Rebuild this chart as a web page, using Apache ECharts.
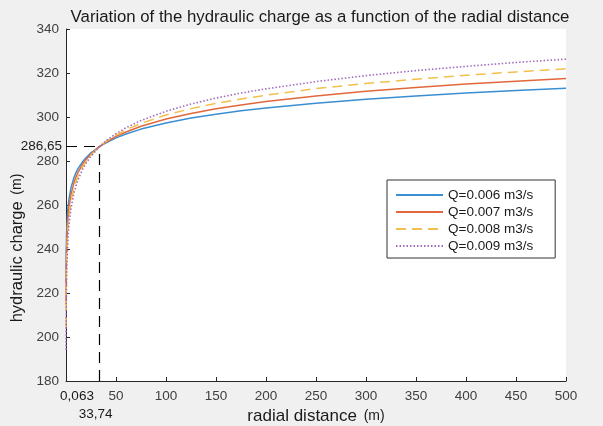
<!DOCTYPE html>
<html>
<head>
<meta charset="utf-8">
<script src="https://cdn.jsdelivr.net/npm/echarts@6/dist/echarts.min.js"></script>
<style>
html,body{margin:0;padding:0;background:#f0f0f0;}
#chart{width:603px;height:426px;}
</style>
</head>
<body>
<div id="chart"></div>
<script>
// radial distance (m)
const radius = [0.063, 0.2, 0.5, 1, 2, 3, 5, 8, 10, 12, 17, 20, 25, 33.74, 40, 50, 60, 75, 100, 125, 150, 175, 200, 250, 300, 350, 400, 450, 500];
// hydraulic charge (m) for each pumping rate
const hQ006 = [225.0, 236.3, 245.3, 252.1, 258.9, 262.9, 267.9, 272.5, 274.7, 276.5, 279.9, 281.5, 283.7, 286.65, 288.3, 290.5, 292.3, 294.5, 297.3, 299.5, 301.3, 302.8, 304.1, 306.3, 308.1, 309.6, 310.9, 312.1, 313.1];
const hQ007 = [214.7, 228.0, 238.4, 246.4, 254.3, 259.0, 264.8, 270.2, 272.7, 274.8, 278.8, 280.7, 283.2, 286.65, 288.6, 291.2, 293.2, 295.8, 299.1, 301.6, 303.7, 305.5, 307.0, 309.6, 311.7, 313.4, 315.0, 316.3, 317.5];
const hQ008 = [204.5, 219.6, 231.6, 240.6, 249.7, 255.0, 261.7, 267.8, 270.7, 273.1, 277.7, 279.8, 282.7, 286.65, 288.9, 291.8, 294.2, 297.1, 300.9, 303.8, 306.2, 308.2, 309.9, 312.9, 315.2, 317.2, 319.0, 320.5, 321.9];
const hQ009 = [194.2, 211.2, 224.7, 234.9, 245.1, 251.0, 258.6, 265.5, 268.8, 271.4, 276.6, 279.0, 282.2, 286.65, 289.2, 292.4, 295.1, 298.4, 302.6, 305.9, 308.6, 310.9, 312.8, 316.1, 318.8, 321.1, 323.0, 324.8, 326.3];
const seriesNames = ['Q=0.006 m3/s', 'Q=0.007 m3/s', 'Q=0.008 m3/s', 'Q=0.009 m3/s'];
// reference point
const refX = 33.74, refY = 286.65;
const refXLabel = '33,74', refYLabel = '286,65', firstXLabel = '0,063';
const xMin = 0, xMax = 500, xStep = 50;
const yMin = 180, yMax = 340, yStep = 20;

const FONT = 'Arial, "Liberation Sans", sans-serif';
const colors = ['#3a8fd2', '#e2683c', '#f1c04c', '#a06cbc'];
const styles = [
  {type: 'solid', width: 1.5},
  {type: 'solid', width: 1.5},
  {type: [10, 6], width: 1.5},
  {type: [1.5, 2], width: 1.6}
];
const allH = [hQ006, hQ007, hQ008, hQ009];

const chart = echarts.init(document.getElementById('chart'), null, {renderer: 'canvas'});
const series = allH.map((h, k) => ({
  name: seriesNames[k],
  type: 'line',
  data: radius.map((r, i) => [r, h[i]]),
  symbol: 'none',
  showSymbol: false,
  z: 3 + k,
  lineStyle: Object.assign({color: colors[k]}, styles[k]),
  itemStyle: {color: colors[k]},
  emphasis: {disabled: true}
}));
series[0].markLine = {
  silent: true,
  symbol: ['none', 'none'],
  animation: false,
  lineStyle: {color: '#000', type: [11, 7], width: 1.2},
  data: [
    [{coord: [xMin, refY], label: {show: true, position: 'start', formatter: refYLabel, distance: 4, color: '#1a1a1a', fontSize: 13.5, fontFamily: FONT}},
     {coord: [refX, refY]}],
    [{coord: [refX, yMin], label: {show: true, position: 'start', formatter: refXLabel, distance: 26, color: '#1a1a1a', fontSize: 13.5, fontFamily: FONT, padding: [0, 8, 0, 0]}},
     {coord: [refX, refY]}]
  ]
};

chart.setOption({
  animation: false,
  backgroundColor: '#f0f0f0',
  title: {
    text: 'Variation of the hydraulic charge as a function of the radial distance',
    left: 315, top: 4, textAlign: 'center',
    textStyle: {fontFamily: FONT, fontSize: 16.8, fontWeight: 'normal', color: '#1a1a1a'}
  },
  grid: {left: 66, right: 37, top: 29, bottom: 45, show: true, backgroundColor: '#ffffff', borderWidth: 0, containLabel: false, outerBoundsMode: 'none'},
  legend: {
    orient: 'vertical', left: 387, top: 180,
    itemWidth: 47, itemHeight: 14, itemGap: 3,
    padding: [8, 22, 5, 8],
    backgroundColor: '#ffffff', borderColor: '#333', borderWidth: 1,
    itemStyle: {opacity: 0},
    textStyle: {fontFamily: FONT, fontSize: 13.5, color: '#1a1a1a'},
    data: seriesNames
  },
  xAxis: {
    type: 'value', min: xMin, max: xMax, interval: xStep,
    name: '{a|radial distance}  {b|(m)}', nameLocation: 'middle', nameGap: 24,
    nameTextStyle: {rich: {a: {fontFamily: FONT, fontSize: 17, color: '#1a1a1a'}, b: {fontFamily: FONT, fontSize: 14, color: '#1a1a1a'}}},
    axisLine: {lineStyle: {color: '#262626', width: 1}},
    axisTick: {inside: true, length: 4, lineStyle: {color: '#262626'}},
    splitLine: {show: false},
    axisLabel: {
      fontFamily: FONT, fontSize: 13.5, color: '#404040', margin: 8,
      formatter: v => v === 0 ? '{p|' + firstXLabel + '}' : String(v),
      rich: {p: {fontFamily: FONT, fontSize: 13.5, color: '#1a1a1a', padding: [0, 0, 0, 22]}}
    }
  },
  yAxis: {
    type: 'value', min: yMin, max: yMax, interval: yStep,
    name: '{a|hydraulic charge}  {b|(m)}', nameLocation: 'middle', nameGap: 31, nameRotate: 90,
    nameTextStyle: {padding: [0, 86, 0, 0], rich: {a: {fontFamily: FONT, fontSize: 16.5, color: '#1a1a1a'}, b: {fontFamily: FONT, fontSize: 14, color: '#1a1a1a'}}},
    axisLine: {show: true, lineStyle: {color: '#262626', width: 1}},
    axisTick: {show: true, inside: true, length: 4, lineStyle: {color: '#262626'}},
    splitLine: {show: false},
    axisLabel: {fontFamily: FONT, fontSize: 13.5, color: '#404040', margin: 7}
  },
  series: series
});
</script>
</body>
</html>
